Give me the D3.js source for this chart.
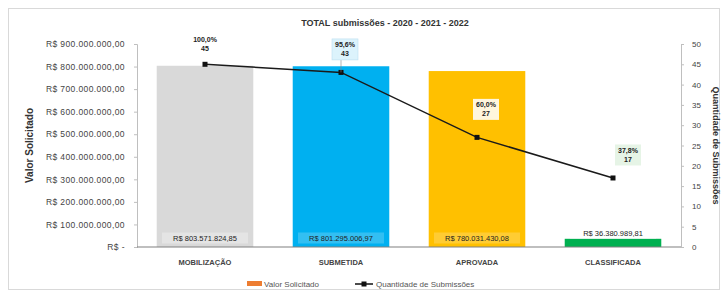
<!DOCTYPE html>
<html><head><meta charset="utf-8">
<script src="https://cdn.jsdelivr.net/npm/d3@7"></script>
<style>body{margin:0;background:#fff;}svg{display:block;font-family:"Liberation Sans",Arial,sans-serif;}</style>
</head><body>
<svg id="c" width="728" height="295"></svg>
<script>
const categories = ["MOBILIZAÇÃO", "SUBMETIDA", "APROVADA", "CLASSIFICADA"];
const valores = [803571824.85, 801295006.97, 780031430.08, 36380989.81];
const valorLabels = ["R$ 803.571.824,85", "R$ 801.295.006,97", "R$ 780.031.430,08", "R$ 36.380.989,81"];
const quantidades = [45, 43, 27, 17];
const pctLabels = ["100,0%", "95,6%", "60,0%", "37,8%"];
const leftTicks = [0, 100e6, 200e6, 300e6, 400e6, 500e6, 600e6, 700e6, 800e6, 900e6];
const rightTicks = [0, 5, 10, 15, 20, 25, 30, 35, 40, 45, 50];
const barColors = ["#d9d9d9", "#00b0f0", "#ffc000", "#00b050"];
const labelBg = ["#e4e4e4", "#33bff2", "#ffcc33", "#ffffff"];
const lineLabelBg = ["#ffffff", "#dcf3fc", "#fff6dc", "#e6f4e6"];

const svg = d3.select("#c");
svg.append("rect").attr("x",8.5).attr("y",8.5).attr("width",711).attr("height",281)
  .attr("fill","#fff").attr("stroke","#d9d9d9");

const m = {l:137, r:681, t:44, b:247};
const x = d3.scaleBand().domain(categories).range([m.l, m.r]).paddingInner(0.29).paddingOuter(0.145);
const y = d3.scaleLinear().domain([0, 900e6]).range([m.b, m.t]);
const y2 = d3.scaleLinear().domain([0, 50]).range([m.b, m.t]);

const fmt = v => v === 0 ? "R$ -" : "R$ " + d3.format(",.2f")(v).replace(/,/g,"#").replace(/\./g,",").replace(/#/g,".");

// title
svg.append("text").attr("x",385).attr("y",26).attr("text-anchor","middle")
  .attr("font-size",9).attr("font-weight","bold").attr("fill","#333")
  .text("TOTAL submissões - 2020 - 2021 - 2022");

// left axis
const la = svg.append("g").attr("transform",`translate(${m.l},0)`)
  .call(d3.axisLeft(y).tickValues(leftTicks).tickFormat(fmt).tickSize(3).tickPadding(9));
la.select(".domain").attr("stroke","#bfbfbf");
la.selectAll(".tick line").attr("stroke","#bfbfbf");
la.selectAll("text").attr("font-size",8.5).attr("fill","#444").attr("letter-spacing",0.4).attr("font-family","Liberation Sans, Arial");

// right axis
const ra = svg.append("g").attr("transform",`translate(${m.r},0)`)
  .call(d3.axisRight(y2).tickValues(rightTicks).tickSize(3).tickPadding(8));
ra.select(".domain").attr("stroke","#bfbfbf");
ra.selectAll(".tick line").attr("stroke","#bfbfbf");
ra.selectAll("text").attr("font-size",8).attr("fill","#444").attr("font-family","Liberation Sans, Arial");

// axis titles
svg.append("text").attr("transform",`translate(33,${(m.t+m.b)/2}) rotate(-90)`)
  .attr("text-anchor","middle").attr("font-size",10).attr("font-weight","bold").attr("fill","#333")
  .text("Valor Solicitado");
svg.append("text").attr("transform",`translate(713,${(m.t+m.b)/2}) rotate(90)`)
  .attr("text-anchor","middle").attr("font-size",9).attr("font-weight","bold").attr("fill","#333")
  .text("Quantidade de Submissões");

// bars
svg.append("g").selectAll("rect").data(categories).join("rect")
  .attr("x", d => x(d)).attr("width", x.bandwidth())
  .attr("y", (d,i) => y(valores[i])).attr("height", (d,i) => y(0) - y(valores[i]))
  .attr("fill", (d,i) => barColors[i]);

// baseline
svg.append("line").attr("x1",m.l).attr("x2",m.r).attr("y1",y(0)).attr("y2",y(0))
  .attr("stroke","#808080").attr("stroke-width",1.2);

// bar labels
categories.forEach((c,i) => {
  const cx = x(c) + x.bandwidth()/2;
  const cy = i === 3 ? y(valores[i]) - 6 : y(0) - 9;
  const w = 86, h = 11;
  svg.append("rect").attr("x",cx-w/2).attr("y",cy-h/2).attr("width",w).attr("height",h)
    .attr("fill",labelBg[i]);
  svg.append("text").attr("x",cx).attr("y",cy+3).attr("text-anchor","middle")
    .attr("font-size",7.5).attr("fill","#222").text(valorLabels[i]);
});

// category labels
svg.append("g").selectAll("text").data(categories).join("text")
  .attr("x", d => x(d) + x.bandwidth()/2).attr("y", 265).attr("text-anchor","middle")
  .attr("font-size",7.5).attr("font-weight","bold").attr("fill","#444").text(d => d);

// line
const pts = categories.map((c,i) => [x(c) + x.bandwidth()/2, y2(quantidades[i])]);
svg.append("path").attr("d", d3.line()(pts)).attr("fill","none").attr("stroke","#1a1a1a").attr("stroke-width",1.5);
svg.append("g").selectAll("rect").data(pts).join("rect")
  .attr("x", d => d[0]-2.5).attr("y", d => d[1]-2.5).attr("width",5).attr("height",5).attr("fill","#111");

// line labels
const offs = [[0,-20],[4,-23],[9,-28],[15,-23]];
pts.forEach((p,i) => {
  const cx = p[0] + offs[i][0], cy = p[1] + offs[i][1];
  const w = 26, h = 21;
  if (i === 1) {
    svg.append("line").attr("x1",p[0]).attr("y1",p[1]).attr("x2",p[0]).attr("y2",cy+h/2)
      .attr("stroke","#888").attr("stroke-width",0.6);
  }
  svg.append("rect").attr("x",cx-w/2).attr("y",cy-h/2).attr("width",w).attr("height",h)
    .attr("fill",lineLabelBg[i]).attr("stroke", i===1 ? "#bcdff0" : "none").attr("stroke-width",0.6);
  svg.append("text").attr("x",cx).attr("y",cy-2).attr("text-anchor","middle")
    .attr("font-size",7).attr("font-weight","bold").attr("fill","#222").text(pctLabels[i]);
  svg.append("text").attr("x",cx).attr("y",cy+7).attr("text-anchor","middle")
    .attr("font-size",7).attr("font-weight","bold").attr("fill","#222").text(quantidades[i]);
});

// legend
const lg = svg.append("g").attr("transform","translate(0,284)");
lg.append("rect").attr("x",247).attr("y",-3).attr("width",15).attr("height",5).attr("fill","#ed7d31");
lg.append("text").attr("x",264).attr("y",2.5).attr("font-size",8).attr("fill","#555").text("Valor Solicitado");
lg.append("line").attr("x1",355).attr("x2",373).attr("y1",0).attr("y2",0).attr("stroke","#111").attr("stroke-width",1.5);
lg.append("rect").attr("x",361.5).attr("y",-2.5).attr("width",5).attr("height",5).attr("fill","#111");
lg.append("text").attr("x",376).attr("y",2.5).attr("font-size",8).attr("fill","#555").text("Quantidade de Submissões");
</script>
</body></html>
